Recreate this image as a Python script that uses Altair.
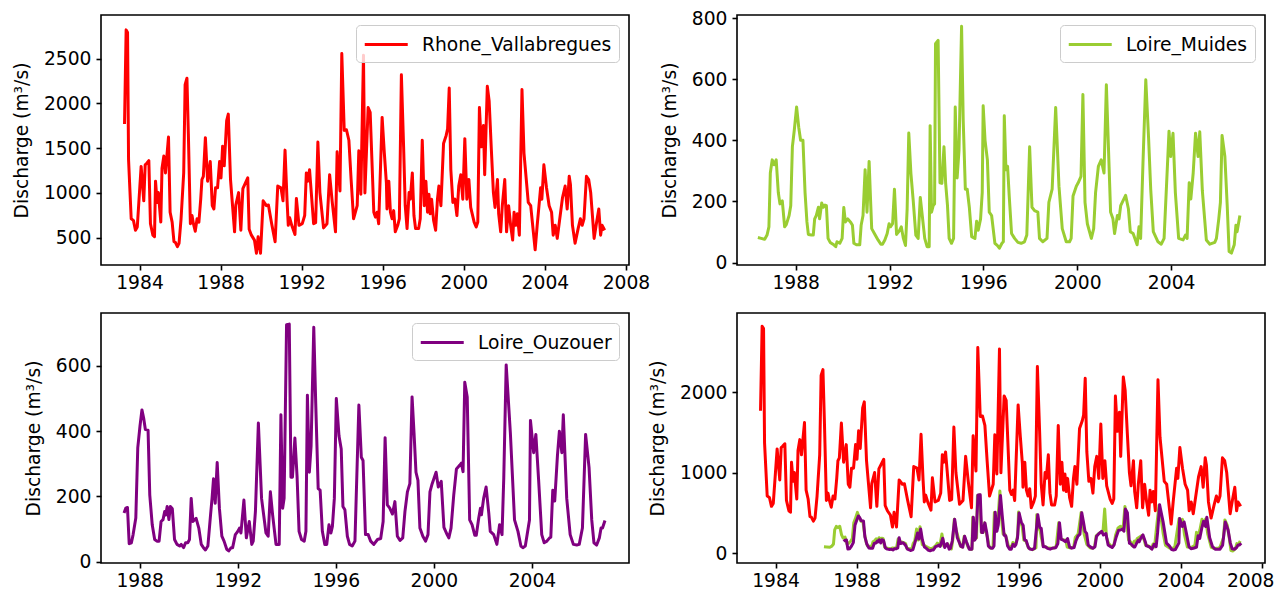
import altair as alt
import pandas as pd

# ---------------- data (decimal year, discharge m3/s) ----------------
rhone_t = [1983.26, 1983.34, 1983.41, 1983.46, 1983.59, 1983.70, 1983.80, 1983.89, 1984.08, 1984.21,
           1984.28, 1984.36, 1984.46, 1984.54, 1984.66, 1984.74, 1984.79, 1984.87, 1984.93, 1985.05,
           1985.11, 1985.20, 1985.28, 1985.43, 1985.51, 1985.61, 1985.70, 1985.77, 1985.87, 1985.95,
           1986.05, 1986.18, 1986.25, 1986.34, 1986.41, 1986.51, 1986.59, 1986.66, 1986.75, 1986.84,
           1986.93, 1987.02, 1987.08, 1987.15, 1987.25, 1987.36, 1987.49, 1987.59, 1987.67, 1987.75,
           1987.85, 1987.95, 1988.02, 1988.10, 1988.18, 1988.30, 1988.38, 1988.49, 1988.59, 1988.69,
           1988.75, 1988.89, 1989.00, 1989.10, 1989.34, 1989.41, 1989.52, 1989.67, 1989.77, 1989.85,
           1989.97, 1990.10, 1990.26, 1990.36, 1990.52, 1990.69, 1990.82, 1990.98, 1991.08, 1991.18,
           1991.28, 1991.34, 1991.41, 1991.51, 1991.67, 1991.74, 1991.87, 1992.03, 1992.15, 1992.23,
           1992.30, 1992.39, 1992.59, 1992.69, 1992.80, 1992.90, 1993.08, 1993.25, 1993.38, 1993.51,
           1993.67, 1993.75, 1993.89, 1993.98, 1994.10, 1994.21, 1994.33, 1994.44, 1994.56, 1994.74,
           1994.82, 1994.92, 1995.05, 1995.12, 1995.28, 1995.38, 1995.56, 1995.64, 1995.72, 1995.80,
           1995.97, 1996.08, 1996.18, 1996.21, 1996.30, 1996.38, 1996.46, 1996.54, 1996.62, 1996.74,
           1996.82, 1996.92, 1997.03, 1997.11, 1997.20, 1997.30, 1997.36, 1997.46, 1997.54, 1997.62,
           1997.77, 1997.85, 1997.95, 1998.05, 1998.13, 1998.21, 1998.28, 1998.34, 1998.41, 1998.51,
           1998.61, 1998.70, 1998.77, 1998.87, 1999.00, 1999.13, 1999.20, 1999.28, 1999.36, 1999.46,
           1999.56, 1999.66, 1999.75, 1999.85, 1999.95, 2000.05, 2000.15, 2000.25, 2000.34, 2000.51,
           2000.61, 2000.69, 2000.77, 2000.87, 2000.97, 2001.03, 2001.16, 2001.25, 2001.36, 2001.46,
           2001.54, 2001.66, 2001.72, 2001.82, 2001.90, 2002.02, 2002.11, 2002.21, 2002.31, 2002.41,
           2002.48, 2002.56, 2002.64, 2002.74, 2002.87, 2002.97, 2003.18, 2003.30, 2003.43, 2003.52,
           2003.62, 2003.79, 2003.85, 2003.95, 2004.08, 2004.21, 2004.33, 2004.41, 2004.51, 2004.61,
           2004.87, 2005.00, 2005.10, 2005.20, 2005.26, 2005.36, 2005.49, 2005.64, 2005.75, 2005.84,
           2005.93, 2006.05, 2006.16, 2006.26, 2006.43, 2006.54, 2006.66, 2006.75, 2006.82, 2006.95]
rhone_q = [1770, 2820, 2790, 1369, 712, 694, 584, 620, 1296, 912,
           1314, 1332, 1361, 657, 529, 511, 1131, 894, 1004, 675,
           1277, 1412, 1223, 1624, 785, 675, 456, 449, 401, 438,
           712, 1223, 2208, 2281, 1661, 657, 748, 657, 573, 712,
           675, 931, 1150, 1186, 1617, 1131, 1350, 858, 821, 1058,
           1058, 1350, 1168, 1522, 1303, 1807, 1880, 1150, 858, 566,
           865, 1004, 584, 1048, 1168, 595, 529, 474, 328, 511,
           328, 912, 858, 865, 657, 456, 1077, 1058, 912, 1478,
           912, 639, 723, 639, 536, 938, 639, 657, 748, 1223,
           1131, 1259, 657, 668, 1569, 1004, 610, 657, 1204, 894,
           566, 1460, 1022, 2555, 1698, 1705, 1588, 1150, 712, 858,
           1471, 985, 2537, 1000, 1953, 1900, 785, 730, 785, 657,
           1843, 1442, 1113, 821, 1131, 785, 712, 803, 566, 639,
           712, 2318, 1515, 858, 602, 1004, 931, 1223, 748, 602,
           602, 712, 1588, 858, 1131, 785, 985, 767, 931, 693,
           584, 931, 1077, 858, 1551, 1642, 1715, 2172, 1259, 894,
           931, 748, 1077, 1204, 931, 1606, 931, 1150, 839, 675,
           620, 675, 1953, 1515, 1752, 1204, 2190, 2026, 1478, 1004,
           839, 1150, 767, 566, 858, 1150, 566, 858, 640, 474,
           785, 639, 767, 529, 2154, 1442, 894, 858, 566, 365,
           639, 1058, 931, 1314, 1058, 858, 785, 529, 639, 493,
           949, 1077, 821, 1186, 1095, 639, 438, 602, 712, 639,
           712, 1186, 1150, 1004, 493, 657, 821, 529, 639, 584]

muides_t = [1986.39, 1986.53, 1986.68, 1986.78, 1986.86, 1986.92, 1987.00, 1987.08, 1987.17, 1987.26,
            1987.33, 1987.43, 1987.53, 1987.60, 1987.72, 1987.79, 1987.86, 1987.94, 1988.04, 1988.13,
            1988.21, 1988.31, 1988.40, 1988.48, 1988.54, 1988.67, 1988.75, 1988.81, 1988.88, 1988.97,
            1989.02, 1989.11, 1989.18, 1989.25, 1989.31, 1989.38, 1989.47, 1989.59, 1989.71, 1989.76,
            1989.88, 1989.98, 1990.05, 1990.12, 1990.22, 1990.35, 1990.42, 1990.48, 1990.59, 1990.73,
            1990.79, 1990.87, 1990.96, 1991.04, 1991.13, 1991.19, 1991.24, 1991.39, 1991.51, 1991.63,
            1991.70, 1991.80, 1991.90, 1991.98, 1992.04, 1992.13, 1992.21, 1992.30, 1992.41, 1992.50,
            1992.59, 1992.68, 1992.75, 1992.82, 1992.91, 1993.01, 1993.12, 1993.22, 1993.31, 1993.41,
            1993.50, 1993.60, 1993.69, 1993.73, 1993.79, 1993.86, 1993.92, 1993.96, 1994.07, 1994.15,
            1994.23, 1994.32, 1994.39, 1994.47, 1994.54, 1994.64, 1994.73, 1994.80, 1994.88, 1994.96,
            1995.07, 1995.14, 1995.23, 1995.31, 1995.40, 1995.50, 1995.64, 1995.71, 1995.78, 1995.88,
            1995.95, 1995.99, 1996.07, 1996.17, 1996.25, 1996.35, 1996.49, 1996.59, 1996.68, 1996.79,
            1996.85, 1996.89, 1996.96, 1997.03, 1997.10, 1997.20, 1997.33, 1997.47, 1997.61, 1997.75,
            1997.85, 1997.97, 1998.07, 1998.18, 1998.32, 1998.39, 1998.53, 1998.71, 1998.79, 1998.93,
            1999.08, 1999.22, 1999.36, 1999.53, 1999.67, 1999.74, 1999.82, 1999.96, 2000.04, 2000.16,
            2000.24, 2000.33, 2000.43, 2000.60, 2000.70, 2000.78, 2000.90, 2001.02, 2001.14, 2001.24,
            2001.42, 2001.52, 2001.59, 2001.71, 2001.78, 2001.85, 2002.06, 2002.18, 2002.26, 2002.38,
            2002.55, 2002.63, 2002.70, 2002.80, 2002.92, 2003.04, 2003.13, 2003.24, 2003.44, 2003.58,
            2003.70, 2003.91, 2003.98, 2004.08, 2004.18, 2004.32, 2004.51, 2004.61, 2004.68, 2004.77,
            2004.84, 2004.94, 2005.04, 2005.15, 2005.22, 2005.33, 2005.50, 2005.65, 2005.86, 2005.93,
            2006.03, 2006.10, 2006.17, 2006.29, 2006.39, 2006.47, 2006.57, 2006.69, 2006.76, 2006.81,
            2006.93]
muides_q = [82, 79, 76, 90, 117, 293, 336, 320, 336, 229,
            192, 202, 117, 124, 154, 186, 379, 432, 509, 443,
            400, 400, 229, 133, 92, 90, 90, 143, 154, 181,
            143, 195, 181, 188, 186, 79, 66, 60, 52, 68,
            63, 79, 180, 133, 143, 131, 122, 63, 58, 58,
            122, 154, 304, 165, 331, 208, 111, 90, 74, 60,
            60, 74, 95, 127, 117, 127, 240, 92, 103, 117,
            79, 56, 175, 424, 293, 202, 90, 79, 213, 143,
            79, 52, 52, 448, 165, 186, 192, 716, 727, 261,
            259, 379, 261, 186, 79, 63, 79, 509, 277, 368,
            773, 464, 240, 240, 181, 85, 79, 135, 106, 143,
            229, 513, 400, 336, 165, 154, 63, 56, 47, 63,
            68, 480, 304, 315, 218, 95, 79, 66, 63, 68,
            90, 379, 181, 170, 165, 79, 68, 79, 197, 240,
            507, 250, 111, 68, 68, 79, 218, 250, 261, 282,
            550, 197, 127, 79, 111, 229, 315, 336, 293, 582,
            165, 143, 95, 154, 143, 186, 220, 175, 101, 95,
            58, 117, 79, 325, 598, 406, 240, 101, 68, 60,
            79, 430, 347, 423, 229, 79, 74, 90, 79, 261,
            208, 293, 423, 347, 428, 235, 74, 60, 66, 79,
            143, 197, 416, 347, 186, 36, 31, 58, 122, 101,
            154]

ouzouer_t = [1987.36, 1987.43, 1987.50, 1987.57, 1987.66, 1987.73, 1987.84, 1987.92, 1988.01, 1988.09,
             1988.16, 1988.23, 1988.34, 1988.41, 1988.51, 1988.61, 1988.70, 1988.79, 1988.87, 1988.95,
             1989.02, 1989.06, 1989.12, 1989.19, 1989.25, 1989.33, 1989.42, 1989.52, 1989.63, 1989.69,
             1989.79, 1989.87, 1989.96, 1990.03, 1990.10, 1990.17, 1990.30, 1990.41, 1990.51, 1990.60,
             1990.68, 1990.78, 1990.89, 1990.95, 1991.01, 1991.08, 1991.16, 1991.25, 1991.35, 1991.44,
             1991.55, 1991.63, 1991.73, 1991.79, 1991.90, 1992.00, 1992.07, 1992.13, 1992.25, 1992.35,
             1992.47, 1992.57, 1992.63, 1992.72, 1992.84, 1992.97, 1993.15, 1993.24, 1993.33, 1993.42,
             1993.56, 1993.69, 1993.76, 1993.83, 1993.89, 1993.99, 1994.10, 1994.17, 1994.23, 1994.33,
             1994.42, 1994.50, 1994.60, 1994.71, 1994.78, 1994.84, 1994.92, 1994.99, 1995.10, 1995.18,
             1995.28, 1995.36, 1995.45, 1995.55, 1995.63, 1995.72, 1995.80, 1995.86, 1995.94, 1996.02,
             1996.13, 1996.22, 1996.29, 1996.37, 1996.47, 1996.56, 1996.67, 1996.78, 1996.94, 1997.04,
             1997.11, 1997.21, 1997.32, 1997.42, 1997.55, 1997.70, 1997.83, 1997.93, 1998.01, 1998.10,
             1998.20, 1998.31, 1998.41, 1998.51, 1998.62, 1998.73, 1998.82, 1998.92, 1999.02, 1999.11,
             1999.19, 1999.27, 1999.35, 1999.43, 1999.55, 1999.66, 1999.76, 1999.84, 1999.93, 2000.09,
             2000.18, 2000.30, 2000.41, 2000.54, 2000.61, 2000.70, 2000.81, 2000.92, 2001.06, 2001.12,
             2001.19, 2001.26, 2001.36, 2001.46, 2001.56, 2001.67, 2001.73, 2001.83, 2001.90, 2001.94,
             2002.03, 2002.13, 2002.24, 2002.30, 2002.44, 2002.57, 2002.68, 2002.78, 2002.85, 2002.95,
             2003.12, 2003.29, 2003.43, 2003.55, 2003.63, 2003.73, 2003.90, 2003.94, 2004.07, 2004.16,
             2004.27, 2004.40, 2004.50, 2004.61, 2004.72, 2004.77, 2004.85, 2004.93, 2005.04, 2005.12,
             2005.22, 2005.28, 2005.42, 2005.56, 2005.69, 2005.83, 2005.93, 2006.06, 2006.19, 2006.33,
             2006.44, 2006.53, 2006.64, 2006.75, 2006.82, 2006.88, 2006.98]
ouzouer_q = [149, 164, 166, 55, 58, 83, 134, 349, 415, 465,
             440, 405, 403, 204, 113, 68, 63, 63, 123, 129,
             154, 143, 169, 129, 169, 162, 68, 53, 48, 53,
             43, 58, 58, 68, 194, 123, 133, 103, 53, 43,
             36, 48, 144, 194, 254, 179, 304, 164, 78, 63,
             38, 33, 43, 43, 83, 93, 103, 88, 189, 73,
             123, 53, 63, 154, 425, 194, 88, 78, 214, 144,
             53, 53, 450, 164, 194, 726, 728, 259, 259, 379,
             259, 93, 68, 63, 93, 510, 274, 354, 718, 485,
             224, 219, 93, 53, 53, 113, 88, 108, 194, 500,
             385, 345, 169, 159, 78, 53, 48, 63, 480, 320,
             310, 83, 83, 63, 53, 68, 71, 123, 380, 174,
             164, 146, 184, 78, 65, 73, 154, 214, 239, 505,
             395, 274, 249, 103, 78, 63, 83, 214, 239, 274,
             229, 246, 105, 83, 73, 103, 204, 284, 296, 302,
             276, 550, 505, 128, 113, 81, 81, 134, 164, 144,
             194, 229, 149, 93, 83, 53, 113, 83, 254, 603,
             395, 128, 93, 48, 43, 48, 128, 433, 334, 390,
             254, 83, 58, 63, 73, 75, 219, 186, 324, 400,
             334, 450, 194, 83, 53, 51, 53, 103, 390, 289,
             128, 58, 51, 73, 103, 103, 126]

names = ["Rhone_Vallabregues", "Loire_Muides", "Loire_Ouzouer"]
colors = ["#ff0000", "#9acd32", "#800080"]

years_a = [1984, 1988, 1992, 1996, 2000, 2004, 2008]
years_b = [1988, 1992, 1996, 2000, 2004]
yt_rhone = [500, 1000, 1500, 2000, 2500]
yt_muides = [0, 200, 400, 600, 800]
yt_ouzouer = [0, 200, 400, 600]
yt_all = [0, 1000, 2000]

FONT = "DejaVu Sans"
FS = 18.7
W, H = 528, 250
YTITLE = "Discharge (m³/s)"


def frame(name, t, q):
    return pd.DataFrame({"t": t, "q": q, "series": name})


df_r = frame(names[0], rhone_t, rhone_q)
df_m = frame(names[1], muides_t, muides_q)
df_o = frame(names[2], ouzouer_t, ouzouer_q)


def xenc(dom, ticks, flush=False):
    kw = dict(values=ticks, format="d", title=None, labelOverlap=False)
    if flush:
        kw.update(labelFlush=5, labelFlushOffset=12)
    else:
        kw.update(labelFlush=False)
    return alt.X("t:Q", scale=alt.Scale(domain=dom, nice=False, zero=False), axis=alt.Axis(**kw))


def yenc(dom, ticks):
    return alt.Y("q:Q", scale=alt.Scale(domain=dom, nice=False, zero=False),
                 axis=alt.Axis(values=ticks, format="d", title=YTITLE, labelFlush=False,
                               labelOverlap=False))


def single(df, i, xdom, xt, ydom, yt):
    return alt.Chart(df).mark_line(strokeWidth=3, strokeJoin="round", clip=True).encode(
        x=xenc(xdom, xt),
        y=yenc(ydom, yt),
        color=alt.Color("series:N", scale=alt.Scale(domain=[names[i]], range=[colors[i]]),
                        legend=alt.Legend(title=None)),
    ).properties(width=W, height=H)


p1 = single(df_r, 0, [1982.1, 2008.15], years_a, [196, 2986], yt_rhone)
p2 = single(df_m, 1, [1985.5, 2008.0], years_b, [-8, 810], yt_muides)
p3 = single(df_o, 2, [1986.42, 2007.96], years_b, [-4, 762], yt_ouzouer)

xd4 = [1982.1, 2008.15]
yd4 = [-119, 2983]
layers = []
for d, c in zip([df_r, df_m, df_o], colors):
    layers.append(
        alt.Chart(d).mark_line(strokeWidth=3, strokeJoin="round", clip=True, color=c).encode(
            x=xenc(xd4, years_a, flush=True), y=yenc(yd4, yt_all)
        )
    )
p4 = alt.layer(*layers).properties(width=W, height=H)

chart = alt.concat(
    p1, p2, p3, p4, columns=2, spacing={"row": 48, "column": 108}, bounds="flush"
).resolve_scale(color="independent").resolve_legend(color="independent").properties(
    padding={"left": 3, "top": 0, "right": 0, "bottom": 0}
).configure_view(
    stroke="black", strokeWidth=1.6
).configure_axis(
    domain=False, grid=False, ticks=True, tickColor="black", tickWidth=1.6, tickSize=5,
    labelFont=FONT, labelFontSize=FS, labelColor="black", labelPadding=3,
    titleFont=FONT, titleFontSize=FS, titleFontWeight="normal", titleColor="black", titlePadding=12,
).configure_axisY(labelPadding=5).configure_legend(
    orient="top-right", offset=10, padding=7, cornerRadius=4, strokeColor="#cccccc",
    fillColor="rgba(255,255,255,0.8)", symbolType="M-1,0H3", symbolStrokeWidth=3, symbolSize=462,
    labelFont=FONT, labelFontSize=FS, labelColor="black", labelOffset=34, labelLimit=400,
)

chart.save("out.html", embed_options={"renderer": "svg", "actions": False})
